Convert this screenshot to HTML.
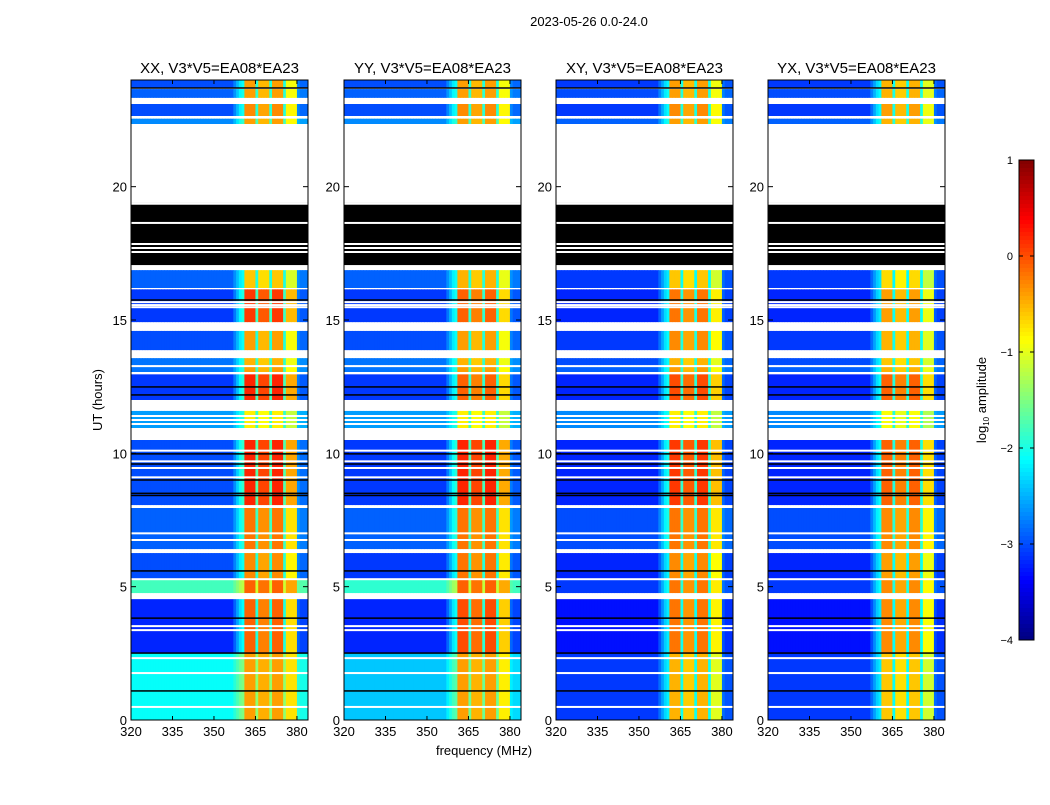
<!DOCTYPE html>
<html><head><meta charset="utf-8">
<style>
body{margin:0;background:#fff;}
svg text{font-family:"Liberation Sans",sans-serif;fill:#000;}
</style></head>
<body>
<svg id="fig" width="1050" height="800" viewBox="0 0 1050 800" xmlns="http://www.w3.org/2000/svg">
<rect width="1050" height="800" fill="#fff"/>
<text x="589" y="26" font-size="13" text-anchor="middle">2023-05-26 0.0-24.0</text>
<text x="102" y="400" font-size="13" text-anchor="middle" transform="rotate(-90 102 400)">UT (hours)</text>
<text x="484" y="755" font-size="13" text-anchor="middle">frequency (MHz)</text>
<g id="panels"></g>
<g id="cbar"></g>
</svg>
<script>
const panelTitles = ["XX, V3*V5=EA08*EA23","YY, V3*V5=EA08*EA23","XY, V3*V5=EA08*EA23","YX, V3*V5=EA08*EA23"];
const xTicks = [320,335,350,365,380];
const yTicks = [0,5,10,15,20];
const cbTicks = [1,0,-1,-2,-3,-4];
const segStart = [23.7,23.33,22.65,22.35,16.2,14.92,13.87,13.3,13.05,12.0,10.95,8.06,6.41,5.29,4.76,2.51,0.0];
const segEnd   = [24.0,23.66,23.1,22.55,16.87,16.15,14.59,13.57,13.25,13.0,11.59,10.5,7.95,6.26,5.27,4.57,2.5];
const bgXX = [-3.0,-2.9,-3.0,-2.7,-2.9,-3.1,-3.0,-2.8,-2.8,-3.1,-2.6,-3.0,-2.9,-3.0,-1.8,-3.2,-2.1];
const bgYY = [-3.0,-2.9,-3.0,-2.7,-2.9,-3.1,-3.0,-2.8,-2.8,-3.1,-2.6,-3.1,-2.9,-3.1,-1.9,-3.2,-2.4];
const bgXY = [-3.1,-3.0,-3.1,-2.9,-3.1,-3.2,-3.1,-3.0,-2.9,-3.2,-2.7,-3.2,-3.0,-3.2,-3.1,-3.3,-3.1];
const bgYX = [-3.1,-3.0,-3.1,-2.9,-3.1,-3.2,-3.1,-3.0,-2.9,-3.2,-2.7,-3.2,-3.0,-3.2,-3.1,-3.3,-3.1];
const hotXX = [-0.4,-0.4,-0.3,-0.4,-0.6,0.1,-0.4,-0.5,-0.4,0.2,-0.8,0.2,-0.2,-0.3,-0.1,-0.1,-0.4];
const hotYY = [-0.4,-0.4,-0.3,-0.4,-0.5,-0.1,-0.4,-0.5,-0.4,-0.1,-0.8,0.2,-0.2,-0.2,-0.1,0.0,-0.4];
const hotXY = [-0.4,-0.4,-0.3,-0.4,-0.6,-0.2,-0.3,-0.5,-0.4,0.0,-0.8,0.1,-0.2,-0.3,-0.2,-0.2,-0.5];
const hotYX = [-0.5,-0.5,-0.4,-0.5,-0.7,-0.4,-0.5,-0.6,-0.5,-0.1,-0.9,-0.1,-0.3,-0.4,-0.3,-0.3,-0.6];
const freqWeight = [0,0,0,0,0,0,0,0,0,0,0,0,0,0,0,0,0,0,0,0,0,0,0,0,0,0,0,0,0,0,0,0,0,0,0,0,0,
 0.1,0.2,0.3,0.35,1,1,1,1,0.4,0.95,0.95,0.95,0.95,0.4,1,1,1,1,0.4,0.8,0.8,0.8,0.8,0.1,0.05,0.05,0.05];
const blackStart = [19.39,14.59];
const blackEnd = [17.06,14.92];
const whiteLines = [19.36,18.64,17.85,17.7,17.55,15.67,15.56,15.48,13.27,13.0,11.4,11.25,11.1,10.1,9.7,9.45,9.1,7.0,6.75,5.28,4.57,3.52,3.37,2.32,1.76,0.49];
const blackLines = [23.7,15.75,12.49,12.19,9.98,9.6,9.0,8.5,8.42,5.59,3.82,2.51,1.09];

const bgs=[bgXX,bgYY,bgXY,bgYX], hots=[hotXX,hotYY,hotXY,hotYX];
const panelX=[131,344,556,768], PW=177, PT=80, PH=640;
const NS="http://www.w3.org/2000/svg";
function jet(v){let t=(v+4)/5;t=Math.max(0,Math.min(1,t));
 const c=x=>Math.round(255*Math.max(0,Math.min(1,1.5-Math.abs(x))));
 return `rgb(${c(4*t-3)},${c(4*t-2)},${c(4*t-1)})`;}
function mk(tag,attrs,parent){const e=document.createElementNS(NS,tag);for(const k in attrs)e.setAttribute(k,attrs[k]);parent.appendChild(e);return e;}
const root=document.getElementById('panels');
panelTitles.forEach((title,p)=>{
 const x0=panelX[p];
 const xS=f=>x0+(f-320)*PW/64;
 const yS=h=>PT+(24-h)*PH/24;
 const g=mk('g',{},root);
 
 
 segStart.forEach((s,i)=>{
  const y1=yS(segEnd[i]), y2=yS(s);
  freqWeight.forEach((w,j)=>{
   const v=bgs[p][i]+(hots[p][i]-bgs[p][i])*w;
   const r=mk('rect',{x:xS(320+j),y:y1,width:PW/64+0.5,height:y2-y1,fill:jet(v)},g);
   
   
  });
 });
 blackStart.forEach((s,i)=>{
  const r=mk('rect',{x:x0,y:yS(s),width:PW,height:yS(blackEnd[i])-yS(s),fill:'#000'},g);
  
  
 });
 whiteLines.forEach(h=>{
  const r=mk('rect',{x:x0,y:yS(h)-1,width:PW,height:2,fill:'#fff'},g);
  
  
 });
 blackLines.forEach(h=>{
  const r=mk('rect',{x:x0,y:yS(h)-0.75,width:PW,height:1.5,fill:'#000'},g);
  
  
 });
 const fr=mk('rect',{x:x0,y:PT,width:PW,height:PH,fill:'none',stroke:'#000','stroke-width':1},g);
 
 
 const t=mk('text',{x:x0+PW/2,y:73,'font-size':15,'text-anchor':'middle'},g);
 t.textContent=title;
 
 
 xTicks.forEach(f=>{
  const x=xS(f);
  mk('line',{x1:x,x2:x,y1:PT+PH,y2:PT+PH-4,stroke:'#000'},g);
  mk('line',{x1:x,x2:x,y1:PT,y2:PT+4,stroke:'#000'},g);
  const l=mk('text',{x:x,y:PT+PH+16,'font-size':13,'text-anchor':'middle'},g);
  l.textContent=f;
  
  
 });
 yTicks.forEach(h=>{
  const y=yS(h);
  mk('line',{x1:x0,x2:x0+5,y1:y,y2:y,stroke:'#000'},g);
  mk('line',{x1:x0+PW,x2:x0+PW-5,y1:y,y2:y,stroke:'#000'},g);
  const l=mk('text',{x:x0-4,y:y+5,'font-size':13,'text-anchor':'end'},g);
  l.textContent=h;
  
  
 });
});
const cb=document.getElementById('cbar');


const CX=1019,CW=15,CT=160,CH=480;
for(let i=0;i<120;i++){
 const v=1-5*(i+0.5)/120;
 mk('rect',{x:CX,y:CT+i*CH/120,width:CW,height:CH/120+0.5,fill:jet(v)},cb);
}
mk('rect',{x:CX,y:CT,width:CW,height:CH,fill:'none',stroke:'#000'},cb);
cbTicks.forEach(v=>{
 const y=CT+(1-v)*CH/5;
 mk('line',{x1:CX,x2:CX+4,y1:y,y2:y,stroke:'#000'},cb);
 mk('line',{x1:CX+CW,x2:CX+CW-4,y1:y,y2:y,stroke:'#000'},cb);
 const l=mk('text',{x:CX-6,y:y+4,'font-size':11,'text-anchor':'end'},cb);
 l.textContent=v<0?'\u2212'+(-v):String(v);
 
 
});
const cl=mk('text',{x:986,y:400,'font-size':13,'text-anchor':'middle',transform:'rotate(-90 986 400)'},cb);
cl.innerHTML='log<tspan font-size="8" dy="3">10</tspan><tspan dy="-3"> amplitude</tspan>';


</script>
</body></html>
